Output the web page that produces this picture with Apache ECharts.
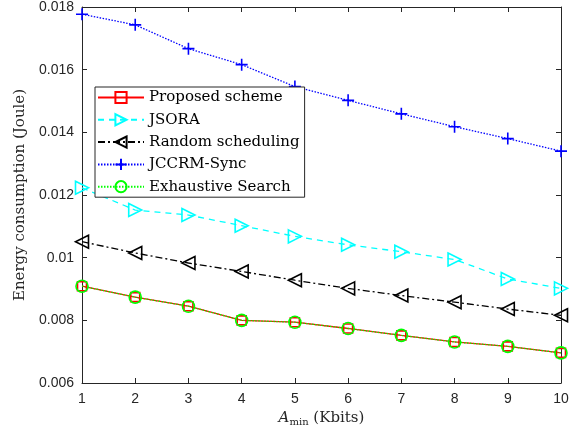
<!DOCTYPE html>
<html><head><meta charset="utf-8">
<script src="https://cdn.jsdelivr.net/npm/echarts@6/dist/echarts.min.js"></script>
<style>html,body{margin:0;padding:0;background:#fff}#c{width:581px;height:434px}</style>
</head><body><div id="c"></div>
<script>
var categories = [1,2,3,4,5,6,7,8,9,10];
var proposed = [0.00909,0.00874,0.00845,0.00800,0.00794,0.00774,0.00752,0.00731,0.00717,0.00696];
var jsora = [0.01223,0.01152,0.01136,0.01102,0.01068,0.01041,0.01019,0.00994,0.00932,0.00902];
var randomSched = [0.01051,0.01015,0.00983,0.00956,0.00928,0.00902,0.00879,0.00858,0.00836,0.00816];
var jccrm = [0.01777,0.01743,0.01667,0.01616,0.01546,0.01502,0.01459,0.01418,0.01380,0.01340];
var exhaustive = [0.00909,0.00874,0.00845,0.00800,0.00794,0.00774,0.00752,0.00731,0.00717,0.00696];
var yTicks = ['0.006','0.008','0.01','0.012','0.014','0.016','0.018'];

function pts(arr){ return categories.map(function(x,i){return [x,arr[i]];}); }
var serif = 'DejaVu Serif';
var axisCol = '#262626';
var chart = echarts.init(document.getElementById('c'));
var triR = 'path://M0,0 L10,5 L0,10 Z';
var triL = 'path://M10,0 L0,5 L10,10 Z';
var plus = 'path://M5,0 L5,10 M0,5 L10,5';
function mkSeries(name, data, color, ltype, symbol, size){
  return {
    name: name, type: 'line', data: pts(data),
    symbol: symbol, symbolSize: size, showAllSymbol: true,
    lineStyle: {color: color, width: 1.3, type: ltype},
    itemStyle: {color: 'rgba(0,0,0,0)', borderColor: color, borderWidth: 1.6},
    emphasis: {disabled: true}, animation: false
  };
}
var option = {
  animation: false,
  grid: {left: 82, right: 20, top: 5, bottom: 51},
  legend: {
    orient: 'vertical', left: 95, top: 87,
    backgroundColor: '#fff', borderColor: axisCol, borderWidth: 1,
    padding: [3, 5, 3, 2], itemGap: 7.3, itemWidth: 46, itemHeight: 14,
    textStyle: {fontFamily: serif, fontSize: 15, lineHeight: 14, color: '#000'},
    data: ['Proposed scheme','JSORA','Random scheduling','JCCRM-Sync','Exhaustive Search']
  },
  xAxis: [{
    type: 'value', min: 1, max: 10, interval: 1,
    axisLine: {lineStyle: {color: axisCol}},
    axisTick: {inside: true, length: 5, lineStyle: {color: axisCol}},
    axisLabel: {fontFamily: 'Liberation Sans', fontSize: 14, color: axisCol, margin: 9},
    splitLine: {show: false},
    name: '{i|A}{s|min} (Kbits)', nameLocation: 'middle', nameGap: 22,
    nameTextStyle: {fontFamily: serif, fontSize: 15, color: axisCol,
      rich: {i: {fontFamily: serif, fontStyle: 'italic', fontSize: 15, color: axisCol},
             s: {fontFamily: serif, fontSize: 10, color: axisCol, verticalAlign: 'bottom', padding: [8,0,0,0]}}}
  },{
    type: 'value', position: 'top', min: 1, max: 10, interval: 1,
    axisLine: {lineStyle: {color: axisCol}},
    axisTick: {inside: true, length: 5, lineStyle: {color: axisCol}},
    axisLabel: {show: false}, splitLine: {show: false}
  }],
  yAxis: [{
    type: 'value', min: 0.006, max: 0.018, interval: 0.002,
    axisLine: {show: true, lineStyle: {color: axisCol}},
    axisTick: {show: true, inside: true, length: 5, lineStyle: {color: axisCol}},
    axisLabel: {fontFamily: 'Liberation Sans', fontSize: 14, color: axisCol, margin: 8,
      formatter: function(v){ var i = Math.round((v-0.006)/0.002); return yTicks[i]; }},
    splitLine: {show: false},
    name: 'Energy consumption (Joule)', nameLocation: 'middle', nameGap: 49,
    nameTextStyle: {fontFamily: serif, fontSize: 15, color: axisCol}
  },{
    type: 'value', position: 'right', min: 0.006, max: 0.018, interval: 0.002,
    axisLine: {show: true, lineStyle: {color: axisCol}},
    axisTick: {show: true, inside: true, length: 5, lineStyle: {color: axisCol}},
    axisLabel: {show: false}, splitLine: {show: false}
  }],
  series: [
    mkSeries('Proposed scheme', proposed, '#ff0000', 'solid', 'rect', 9),
    mkSeries('JSORA', jsora, '#00ffff', [6,5], triR, 13),
    mkSeries('Random scheduling', randomSched, '#000000', [7,3,2,3], triL, 13),
    mkSeries('JCCRM-Sync', jccrm, '#0000ff', [1.5,1.5], plus, 12),
    mkSeries('Exhaustive Search', exhaustive, '#00ff00', [1.5,1.5], 'circle', 12)
  ]
};
chart.setOption(option);
</script></body></html>
